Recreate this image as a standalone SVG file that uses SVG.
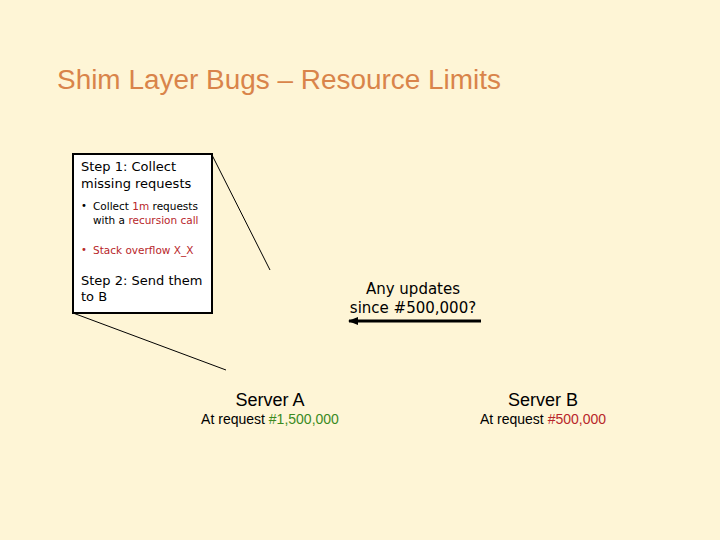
<svg xmlns="http://www.w3.org/2000/svg" width="720" height="540" viewBox="0 0 720 540">
<style>
.comic{font-family:"DejaVu Sans","Liberation Sans",sans-serif;fill:#000}
.arial{font-family:"Liberation Sans",Arial,sans-serif;fill:#000}
.red{fill:#B8262A}
.green{fill:#3A8A1E}
.ln{stroke:#000;stroke-width:1;fill:none}
</style>
<defs>
<marker id="ah" markerWidth="10" markerHeight="8" refX="9" refY="4" orient="auto" markerUnits="userSpaceOnUse"><path d="M0,0 L10,4 L0,8 Z" fill="#000"/></marker>
</defs>
<rect width="720" height="540" fill="#FEF5D6"/>
<text x="57" y="89" font-family="Liberation Sans,Arial,sans-serif" font-size="27" fill="#D9844A" textLength="444" lengthAdjust="spacingAndGlyphs">Shim Layer Bugs – Resource Limits</text>
<g id="connectors">
<line class="ln" x1="212" y1="155" x2="270" y2="270"/>
<line class="ln" x1="73" y1="313" x2="226" y2="370"/>
<line x1="481" y1="321" x2="349" y2="321" stroke="#000" stroke-width="3" marker-end="url(#ah)"/>
</g>
<g id="callout">
<rect x="73" y="154" width="139" height="159" fill="#fff" stroke="#000" stroke-width="2"/>
<text class="comic" x="81" y="171" font-size="13">Step 1: Collect</text>
<text class="comic" x="81" y="188" font-size="13">missing requests</text>
<text class="comic" x="81" y="209" font-size="10">•</text>
<text class="comic" x="93" y="210" font-size="10.5">Collect <tspan class="red">1m</tspan> requests</text>
<text class="comic" x="93" y="224" font-size="10.5">with a <tspan class="red">recursion call</tspan></text>
<text class="comic red" x="81" y="253" font-size="10">•</text>
<text class="comic red" x="93" y="254" font-size="10.5">Stack overflow X_X</text>
<text class="comic" x="81" y="285" font-size="13">Step 2: Send them</text>
<text class="comic" x="81" y="301" font-size="13">to B</text>
</g>
<g id="message">
<text class="comic" x="413" y="294" font-size="15" text-anchor="middle">Any updates</text>
<text class="comic" x="413" y="313" font-size="15" text-anchor="middle">since #500,000?</text>
</g>
<g id="serverA">
<text class="arial" x="270" y="406" font-size="18" text-anchor="middle">Server A</text>
<text class="arial" x="270" y="424" font-size="14" text-anchor="middle">At request <tspan class="green">#1,500,000</tspan></text>
</g>
<g id="serverB">
<text class="arial" x="543" y="406" font-size="18" text-anchor="middle">Server B</text>
<text class="arial" x="543" y="424" font-size="14" text-anchor="middle">At request <tspan class="red">#500,000</tspan></text>
</g>
</svg>
